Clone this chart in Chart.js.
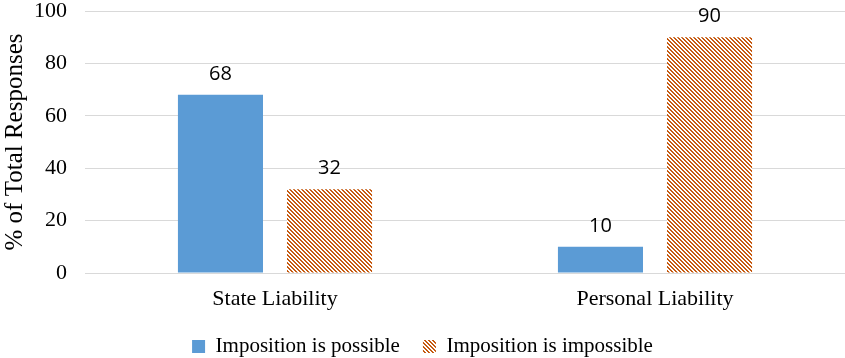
<!DOCTYPE html>
<html>
<head>
<meta charset="utf-8">
<script src="https://cdn.jsdelivr.net/npm/chart.js@4"></script>
<style>
  html, body { margin: 0; padding: 0; background: #fff; }
  #wrap { width: 845px; height: 358px; }
</style>
</head>
<body>
<div id="wrap"><canvas id="chart"></canvas></div>
<script>
const categories = ['State Liability', 'Personal Liability'];
const possibleValues = [68, 10];
const impossibleValues = [32, 90];
const yTicks = [0, 20, 40, 60, 80, 100];

const blue = '#5B9BD5';
const orange = '#C55A11';

// diagonal hatch like the office "wide downward diagonal" fill
function makeHatch(color) {
  const c = document.createElement('canvas');
  c.width = 4; c.height = 4;
  const ctx = c.getContext('2d');
  ctx.fillStyle = '#fff';
  ctx.fillRect(0, 0, 4, 4);
  ctx.fillStyle = color;
  for (let y = 0; y < 4; y++) {
    for (let x = 0; x < 4; x++) {
      const d = ((x - y) % 4 + 4) % 4;
      if (d === 0 || d === 1) ctx.fillRect(x, y, 1, 1);
    }
  }
  return document.getElementById('chart').getContext('2d').createPattern(c, 'repeat');
}
const hatch = makeHatch(orange);

const valueLabels = {
  id: 'valueLabels',
  afterDatasetsDraw(chart) {
    const ctx = chart.ctx;
    ctx.save();
    ctx.font = '20px "Open Sans", sans-serif';
    ctx.fillStyle = '#000';
    ctx.textAlign = 'center';
    ctx.textBaseline = 'middle';
    chart.data.datasets.forEach((ds, i) => {
      chart.getDatasetMeta(i).data.forEach((bar, j) => {
        ctx.fillText(ds.data[j], bar.x, bar.y - 21);
      });
    });
    ctx.restore();
  }
};

new Chart(document.getElementById('chart'), {
  type: 'bar',
  data: {
    labels: categories,
    datasets: [
      { label: 'Imposition is possible', data: possibleValues, backgroundColor: blue },
      { label: 'Imposition is impossible', data: impossibleValues, backgroundColor: hatch }
    ]
  },
  options: {
    responsive: true,
    maintainAspectRatio: false,
    animation: false,
    categoryPercentage: 0.574,
    barPercentage: 0.78,
    layout: { padding: { top: 0, left: 0, right: 0, bottom: -9 } },
    plugins: {
      tooltip: { enabled: false },
      legend: {
        position: 'bottom',
        labels: {
          color: '#000',
          font: { family: '"Liberation Serif", serif', size: 21 },
          boxWidth: 13,
          boxHeight: 13,
          padding: 23
        }
      }
    },
    scales: {
      x: {
        afterFit(scale) { scale.height = 40; },
        grid: { display: false },
        border: { color: '#d9d9d9', width: 1 },
        ticks: { color: '#000', font: { family: '"Liberation Serif", serif', size: 22 }, padding: 5 }
      },
      y: {
        min: 0,
        max: 100,
        afterBuildTicks(scale) { scale.ticks = yTicks.map(v => ({ value: v })); },
        afterFit(scale) { scale.width = 85; scale.paddingTop = 11; },
        grid: { color: '#d9d9d9', drawTicks: false },
        border: { display: false },
        ticks: { color: '#000', font: { family: '"Liberation Serif", serif', size: 22 }, padding: 18 },
        title: {
          display: true,
          text: '% of Total Responses',
          color: '#000',
          font: { family: '"Liberation Serif", serif', size: 25 },
          padding: 0
        }
      }
    }
  },
  plugins: [valueLabels]
});
</script>
</body>
</html>
